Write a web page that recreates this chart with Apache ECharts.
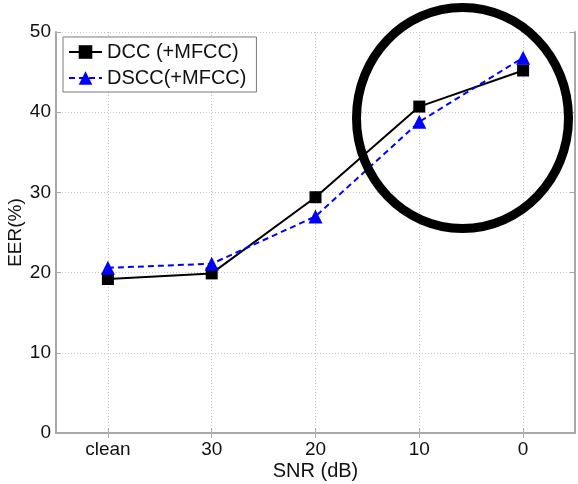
<!DOCTYPE html>
<html>
<head>
<meta charset="utf-8">
<script src="https://cdn.jsdelivr.net/npm/echarts@6/dist/echarts.min.js"></script>
<style>html,body{margin:0;padding:0;background:#fff}#c{width:578px;height:484px}</style>
</head>
<body>
<div id="c"></div>
<script>
var categories = ['clean', '30', '20', '10', '0'];
var dccValues = [19.2, 19.9, 29.4, 40.7, 45.2];
var dsccValues = [20.6, 21.1, 27.0, 38.8, 46.8];
var yTicks = [0, 10, 20, 30, 40, 50];

var slots = [''];
categories.forEach(function (c) { slots.push(c); slots.push(''); });
function toPairs(arr) { return arr.map(function (v, i) { return [2 * i + 1, v]; }); }
function odd(i) { return i % 2 === 1; }

var FONT = 'Liberation Sans';
var axisGray = '#a8a8a8';
var chart = echarts.init(document.getElementById('c'));
var baseX = {
  type: 'category', data: slots, boundaryGap: false,
  axisLine: { show: true, lineStyle: { color: axisGray, width: 2 } },
  axisTick: { show: true, inside: true, length: 5, interval: odd, lineStyle: { color: axisGray, width: 1 } },
  splitLine: { show: false }
};
chart.setOption({
  animation: false,
  textStyle: { fontFamily: FONT },
  grid: { left: 56, right: 3, top: 32, bottom: 51, containLabel: false, outerBoundsMode: 'none' },
  xAxis: [
    Object.assign({}, baseX, {
      position: 'bottom',
      name: 'SNR (dB)', nameLocation: 'middle', nameGap: 28, nameMoveOverlap: false,
      nameTextStyle: { fontSize: 20, color: '#111', fontFamily: FONT },
      axisLabel: { interval: odd, fontSize: 19, color: '#111', margin: 7, fontFamily: FONT },
      splitLine: { show: true, interval: odd, lineStyle: { color: '#c8c8c8', type: [1, 2], width: 1 } }
    }),
    Object.assign({}, baseX, { position: 'top', axisLabel: { show: false } })
  ],
  yAxis: [
    {
      type: 'value', min: yTicks[0], max: yTicks[yTicks.length - 1], interval: 10, position: 'left',
      name: 'EER(%)', nameLocation: 'middle', nameGap: 31, nameMoveOverlap: false,
      nameTextStyle: { fontSize: 19, color: '#111', fontFamily: FONT },
      axisLine: { show: true, lineStyle: { color: axisGray, width: 2 } },
      axisTick: { show: true, inside: true, length: 5, lineStyle: { color: axisGray } },
      axisLabel: { fontSize: 19, color: '#111', margin: 5, fontFamily: FONT },
      splitLine: { show: true, lineStyle: { color: '#c8c8c8', type: [1, 2], width: 1 } }
    },
    {
      type: 'value', min: yTicks[0], max: yTicks[yTicks.length - 1], interval: 10, position: 'right',
      axisLine: { show: true, lineStyle: { color: axisGray, width: 2 } },
      axisTick: { show: true, inside: true, length: 5, lineStyle: { color: axisGray } },
      axisLabel: { show: false },
      splitLine: { show: false }
    }
  ],
  legend: {
    orient: 'vertical', left: 63, top: 37,
    padding: [5, 10, 4, 5], itemGap: 6, itemWidth: 33, itemHeight: 17,
    backgroundColor: '#fff', borderColor: '#7a7a7a', borderWidth: 1,
    textStyle: { fontSize: 20, color: '#111', fontFamily: FONT },
    data: ['DCC (+MFCC)', 'DSCC(+MFCC)']
  },
  series: [
    {
      name: 'DCC (+MFCC)', type: 'line', data: toPairs(dccValues),
      symbol: 'rect', symbolSize: 12, color: '#000',
      lineStyle: { color: '#000', width: 2 }, itemStyle: { color: '#000' }
    },
    {
      name: 'DSCC(+MFCC)', type: 'line', data: toPairs(dsccValues),
      symbol: 'triangle', symbolSize: 14, color: '#0000ff',
      lineStyle: { color: '#0000ff', width: 2, type: [6, 4] }, itemStyle: { color: '#0000ff' }
    }
  ],
  graphic: [{
    type: 'ellipse', z: 100,
    shape: { cx: 462.5, cy: 118, rx: 106, ry: 110.5 },
    style: { fill: 'none', stroke: '#000', lineWidth: 9 }
  }]
});
</script>
</body>
</html>
